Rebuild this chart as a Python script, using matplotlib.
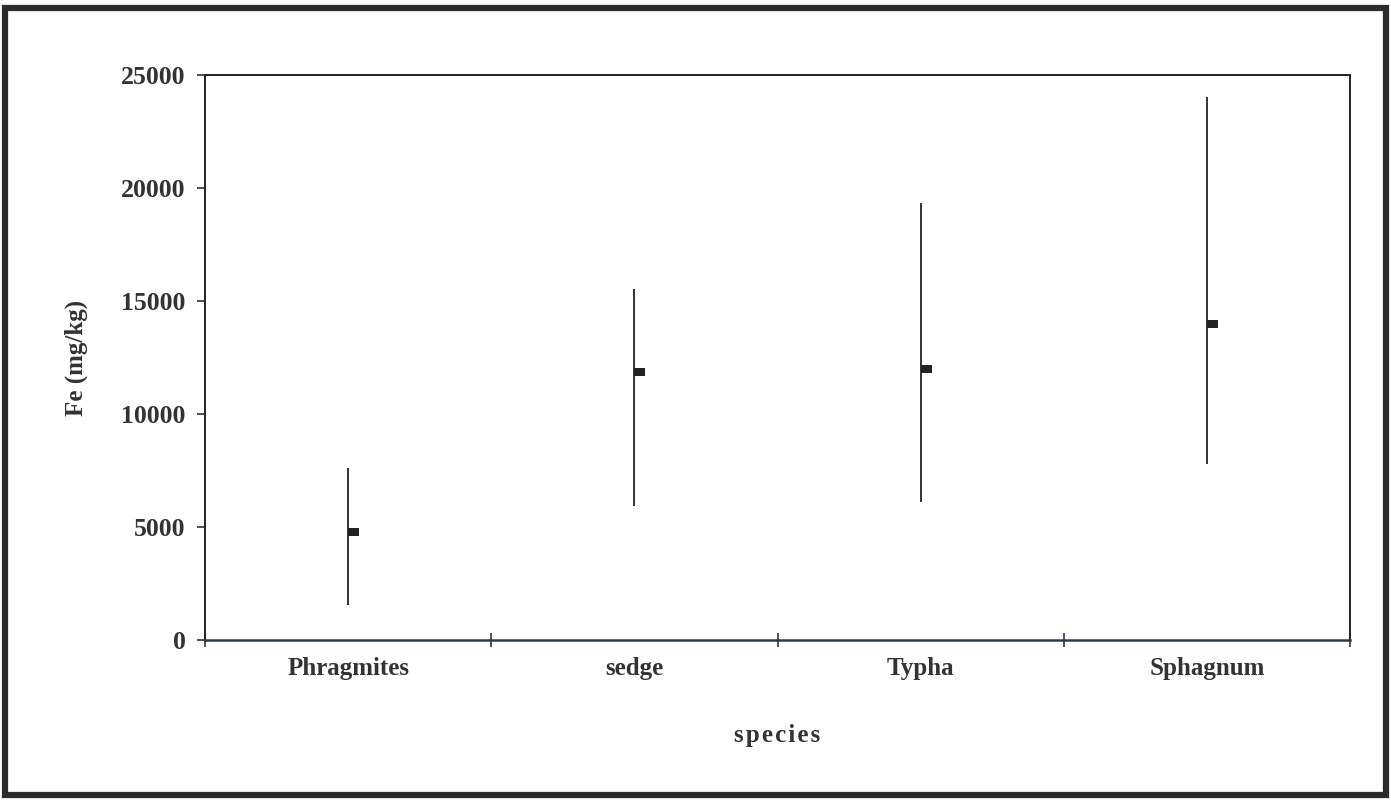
import matplotlib.pyplot as plt
from matplotlib.patches import Rectangle
from matplotlib.path import Path
import numpy as np

species = ['Phragmites', 'sedge', 'Typha', 'Sphagnum']
fe_mean = [4780, 11860, 11990, 13980]
fe_high = [7610, 15530, 19340, 24030]
fe_low = [1550, 5930, 6100, 7790]
y_ticks = [0, 5000, 10000, 15000, 20000, 25000]

plt.rcParams['font.family'] = ['Liberation Serif', 'DejaVu Serif']
txt = '#333333'

fig = plt.figure(figsize=(13.91, 8), dpi=100)
ax = fig.add_axes([205 / 1391, 1 - 640 / 800, 1145 / 1391, 565 / 800])

x = np.arange(len(species))
ax.vlines(x, fe_low, fe_high, color='#333333', linewidth=1.4, zorder=2)

# Excel-style dash marker that sits just right of the line
dash = Path([(0, -0.35), (1, -0.35), (1, 0.35), (0, 0.35), (0, -0.35)],
            [Path.MOVETO, Path.LINETO, Path.LINETO, Path.LINETO, Path.CLOSEPOLY])
ax.plot(x, fe_mean, linestyle='none', marker=dash, markersize=16,
        color='#222222', markeredgewidth=0, zorder=3)

ax.set_xlim(-0.5, len(species) - 0.5)
ax.set_ylim(0, 25000)
ax.set_yticks(y_ticks)
ax.set_yticklabels([str(v) for v in y_ticks], fontsize=18.5, fontweight='bold', color=txt)
ax.set_xticks(x)
ax.set_xticklabels(species, fontsize=18, fontweight='bold', color=txt)
ax.set_xticks(np.arange(len(species) + 1) - 0.5, minor=True)
ax.tick_params(axis='x', which='major', length=0, pad=12)
ax.tick_params(axis='x', which='minor', length=10, direction='inout', width=1.2, color='#333333')
ax.tick_params(axis='y', length=6, width=1.2, color='#333333', pad=8)

for s in ['left', 'top', 'right']:
    ax.spines[s].set_linewidth(1.4)
    ax.spines[s].set_color('#222222')
ax.spines['bottom'].set_linewidth(1.8)
ax.spines['bottom'].set_color('#2a3a55')

ax.set_ylabel('Fe (mg/kg)', fontsize=18, fontweight='bold', color=txt, labelpad=24)
ax.set_xlabel('s\u200ap\u200ae\u200ac\u200ai\u200ae\u200as', fontsize=18,
              fontweight='bold', color=txt, labelpad=32)

# outer frame around the whole chart
fig.patches.append(Rectangle((5 / 1391, 5 / 800), 1381 / 1391, 787 / 800,
                             transform=fig.transFigure, fill=False,
                             edgecolor='#2b2b2b', linewidth=4.5))

fig.savefig('out.png', dpi=100)
